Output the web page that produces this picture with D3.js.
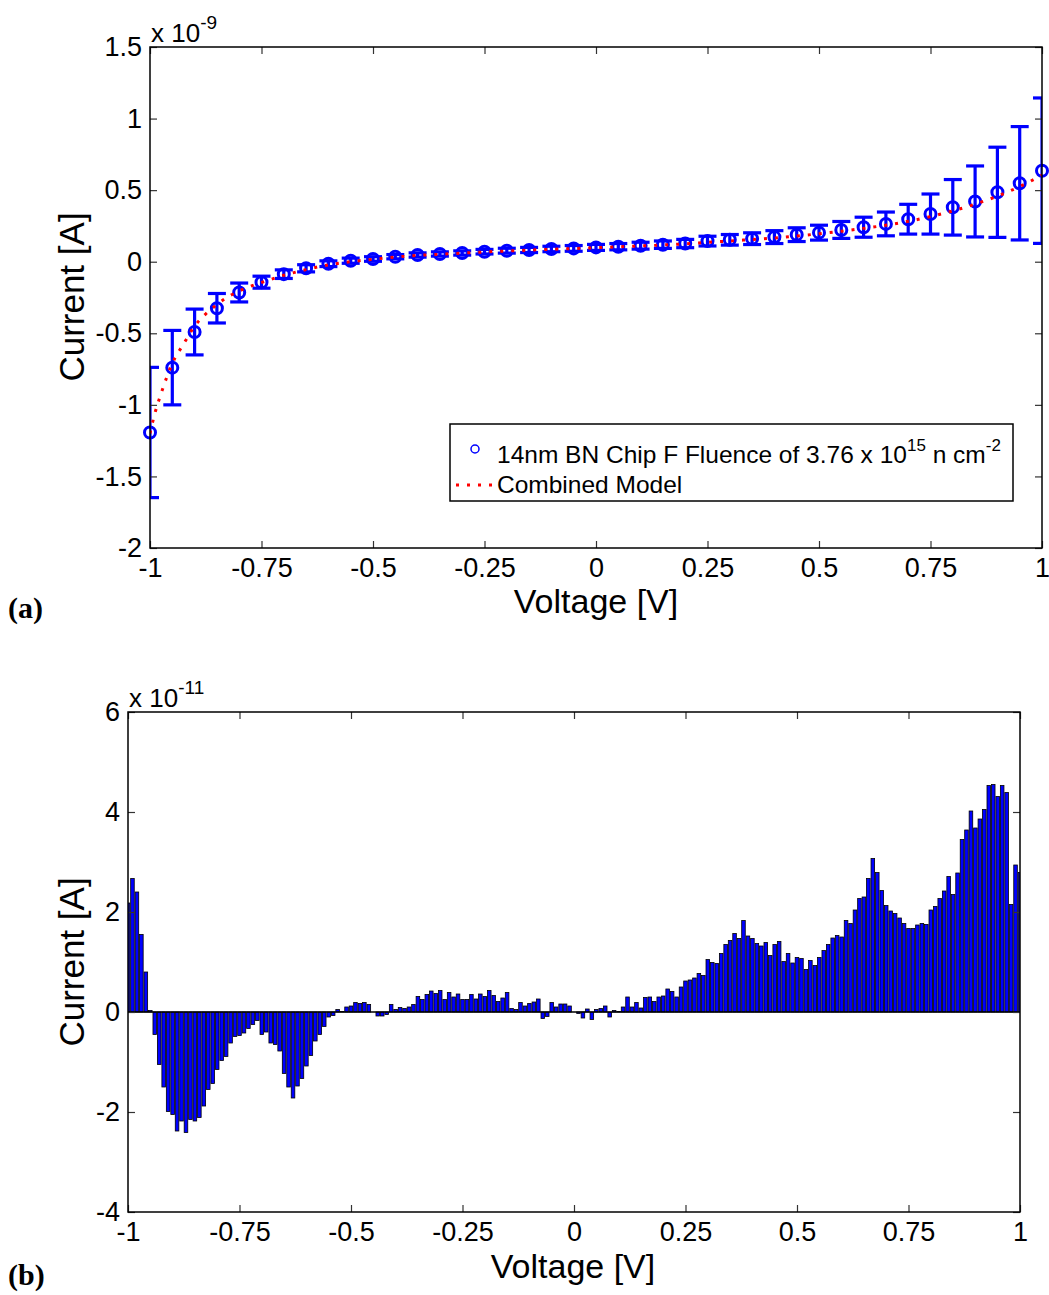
<!DOCTYPE html>
<html><head><meta charset="utf-8">
<script src="https://cdn.jsdelivr.net/npm/d3@7"></script>
<style>
body{margin:0;background:#fff}
svg{display:block}
text{fill:#000}
</style>
</head><body>
<svg id="c" width="1049" height="1295"></svg>
<script>
// ---------- Data: panel (a), current in units of 1e-9 A ----------
const voltageA = [-1,-0.95,-0.9,-0.85,-0.8,-0.75,-0.7,-0.65,-0.6,-0.55,-0.5,-0.45,-0.4,-0.35,-0.3,-0.25,-0.2,-0.15,-0.1,-0.05,0,
  0.05,0.1,0.15,0.2,0.25,0.3,0.35,0.4,0.45,0.5,0.55,0.6,0.65,0.7,0.75,0.8,0.85,0.9,0.95,1];
const currentA = [-1.193,-0.74,-0.491,-0.325,-0.215,-0.143,-0.087,-0.046,-0.014,0.007,0.019,0.035,0.047,0.054,0.061,0.07,0.077,0.082,0.089,0.093,0.10,
  0.105,0.112,0.119,0.127,0.144,0.153,0.161,0.172,0.189,0.203,0.222,0.241,0.264,0.297,0.333,0.38,0.421,0.485,0.548,0.636];
const errorA = [0.455,0.26,0.16,0.103,0.066,0.042,0.03,0.025,0.02,0.018,0.016,0.015,0.015,0.015,0.015,0.016,0.017,0.018,0.019,0.02,0.021,
  0.022,0.024,0.026,0.029,0.034,0.037,0.041,0.045,0.048,0.052,0.059,0.07,0.083,0.104,0.14,0.194,0.248,0.315,0.396,0.508];
// Combined model curve
const modelVoltage = [-1,-0.99,-0.975,-0.95,-0.925,-0.9,-0.875,-0.85,-0.825,-0.8,-0.775,-0.75,-0.7,-0.65,-0.6,-0.55,-0.5,-0.45,-0.4,-0.35,-0.3,-0.25,-0.2,-0.15,-0.1,-0.05,0,
  0.05,0.1,0.15,0.2,0.25,0.3,0.35,0.4,0.45,0.5,0.55,0.6,0.65,0.7,0.75,0.8,0.85,0.9,0.95,1];
const modelCurrent = [-1.2,-1.07,-0.92,-0.71,-0.576,-0.45,-0.365,-0.30,-0.245,-0.205,-0.172,-0.145,-0.095,-0.055,-0.022,0.0,0.017,0.032,0.044,0.052,0.06,0.068,0.075,0.081,0.087,0.092,0.098,
  0.104,0.11,0.117,0.125,0.135,0.145,0.155,0.166,0.18,0.195,0.213,0.233,0.255,0.282,0.315,0.355,0.402,0.458,0.525,0.605];
const xTicksA = [-1,-0.75,-0.5,-0.25,0,0.25,0.5,0.75,1];
const yTicksA = [-2,-1.5,-1,-0.5,0,0.5,1,1.5];

// ---------- Data: panel (b), current in units of 1e-11 A, one bar per 0.01 V from -1 to 1 ----------
const currentB = [
  2.18,2.67,2.4,1.55,0.8,0.03,-0.45,-1.05,-1.5,-1.99,
  -2.05,-2.38,-2.18,-2.41,-2.15,-2.18,-2.11,-1.88,-1.55,-1.43,
  -1.15,-0.97,-0.89,-0.62,-0.49,-0.47,-0.42,-0.33,-0.25,-0.17,
  -0.45,-0.4,-0.62,-0.65,-0.78,-1.23,-1.5,-1.72,-1.48,-1.33,
  -1.08,-0.87,-0.58,-0.45,-0.29,-0.1,-0.07,0.05,0.01,0.1,
  0.12,0.19,0.17,0.19,0.15,0.0,-0.08,-0.08,-0.05,0.15,
  0.05,0.09,0.07,0.1,0.15,0.31,0.25,0.35,0.42,0.37,
  0.43,0.25,0.39,0.3,0.36,0.25,0.25,0.35,0.26,0.36,
  0.31,0.43,0.33,0.21,0.28,0.39,0.07,0.05,0.19,0.12,
  0.17,0.2,0.26,-0.13,-0.09,0.19,0.1,0.16,0.16,0.12,
  0.0,-0.03,-0.12,0.06,-0.15,0.05,0.07,0.12,-0.1,0.03,
  0.01,0.1,0.3,0.1,0.19,0.08,0.29,0.3,0.21,0.3,
  0.32,0.46,0.41,0.3,0.5,0.62,0.64,0.68,0.77,0.73,
  1.05,0.99,0.97,1.17,1.35,1.43,1.57,1.47,1.83,1.52,
  1.47,1.37,1.32,1.39,1.13,1.35,1.41,1.01,1.17,0.98,
  1.09,1.07,0.85,1.03,0.93,1.09,1.23,1.35,1.48,1.53,
  1.5,1.83,1.77,2.04,2.27,2.3,2.67,3.07,2.79,2.43,
  2.13,2.02,1.97,1.88,1.77,1.67,1.67,1.74,1.77,1.75,
  2.04,2.11,2.27,2.42,2.71,2.35,2.78,3.45,3.64,4.02,
  3.68,3.86,4.05,4.53,4.55,4.31,4.53,4.39,2.15,2.94,
  2.79];
const voltageStepB = 0.01;
const voltageB = currentB.map((_, i) => Math.round((-1 + i * voltageStepB) * 100) / 100);
const xTicksB = [-1,-0.75,-0.5,-0.25,0,0.25,0.5,0.75,1];
const yTicksB = [-4,-2,0,2,4,6];

// ---------- Drawing ----------
const SANS = '"Liberation Sans",Arial,sans-serif';
const SERIF = '"Liberation Serif","Times New Roman",serif';
const svg = d3.select('#c').style('font-family', SANS);
const BLUE = '#0000ff';
const TICK_FS = 27;

function drawAxes(g, x, y, xt, yt, box, xPad, yPad) {
  const fmt = d => String(d);
  const gb = g.append('g').attr('transform', `translate(0,${box.bottom})`)
    .call(d3.axisBottom(x).tickValues(xt).tickSize(-7).tickPadding(xPad).tickFormat(fmt));
  const gt = g.append('g').attr('transform', `translate(0,${box.top})`)
    .call(d3.axisTop(x).tickValues(xt).tickSize(-7).tickFormat(''));
  const gl = g.append('g').attr('transform', `translate(${box.left},0)`)
    .call(d3.axisLeft(y).tickValues(yt).tickSize(-7).tickPadding(yPad).tickFormat(fmt));
  const gr = g.append('g').attr('transform', `translate(${box.right},0)`)
    .call(d3.axisRight(y).tickValues(yt).tickSize(-7).tickFormat(''));
  [gb, gt, gl, gr].forEach(a => {
    a.select('.domain').remove();
    a.attr('font-family', SANS).attr('font-size', TICK_FS);
    a.selectAll('.tick line').attr('stroke', '#333').attr('stroke-width', 1.2);
    a.selectAll('.tick text').attr('fill', '#000');
  });
  g.append('rect').attr('x', box.left).attr('y', box.top)
    .attr('width', box.right - box.left).attr('height', box.bottom - box.top)
    .attr('fill', 'none').attr('stroke', '#000').attr('stroke-width', 1.5);
}

function exponentLabel(xp, yp, exp) {
  const t = svg.append('text').attr('x', xp).attr('y', yp).attr('font-size', 26);
  t.append('tspan').text('x 10');
  t.append('tspan').attr('dy', -13).attr('font-size', 19).text(exp);
}

// ===== Panel (a) =====
const boxA = {left: 150, right: 1042, top: 47, bottom: 548};
const xA = d3.scaleLinear().domain([-1, 1]).range([boxA.left, boxA.right]);
const yA = d3.scaleLinear().domain([-2, 1.5]).range([boxA.bottom, boxA.top]);
const gA = svg.append('g');

svg.append('clipPath').attr('id', 'clipA').append('rect')
  .attr('x', boxA.left).attr('y', boxA.top).attr('width', boxA.right - boxA.left).attr('height', boxA.bottom - boxA.top);

const ptsA = voltageA.map((v, i) => ({v, c: currentA[i], e: errorA[i]}));
const errG = gA.append('g').attr('clip-path', 'url(#clipA)').attr('stroke', BLUE).attr('stroke-width', 3.2).attr('fill', 'none');
const capW = 9;
ptsA.forEach(p => {
  const cx = xA(p.v), y1 = yA(p.c + p.e), y2 = yA(p.c - p.e);
  errG.append('line').attr('x1', cx).attr('x2', cx).attr('y1', y1).attr('y2', y2);
  errG.append('line').attr('x1', cx - capW).attr('x2', cx + capW).attr('y1', y1).attr('y2', y1);
  errG.append('line').attr('x1', cx - capW).attr('x2', cx + capW).attr('y1', y2).attr('y2', y2);
});
gA.append('g').selectAll('circle').data(ptsA).join('circle')
  .attr('cx', d => xA(d.v)).attr('cy', d => yA(d.c)).attr('r', 5.5)
  .attr('fill', 'none').attr('stroke', BLUE).attr('stroke-width', 3);

const modelPts = modelVoltage.map((v, i) => ({v, m: modelCurrent[i]}));
const lineA = d3.line().x(d => xA(d.v)).y(d => yA(d.m)).curve(d3.curveMonotoneX);
gA.append('path').datum(modelPts).attr('d', lineA).attr('clip-path', 'url(#clipA)')
  .attr('fill', 'none').attr('stroke', '#ff0000').attr('stroke-width', 3).attr('stroke-dasharray', '3,8');

drawAxes(gA, xA, yA, xTicksA, yTicksA, boxA, 10, 8);
exponentLabel(151, 42, '-9');

// Legend (a)
const lg = svg.append('g');
lg.append('rect').attr('x', 450).attr('y', 424).attr('width', 563).attr('height', 77)
  .attr('fill', '#fff').attr('stroke', '#000').attr('stroke-width', 1.5);
lg.append('circle').attr('cx', 475).attr('cy', 449).attr('r', 4).attr('fill', 'none').attr('stroke', BLUE).attr('stroke-width', 1.5);
const lt1 = lg.append('text').attr('x', 497).attr('y', 463).attr('font-size', 24.5);
lt1.append('tspan').text('14nm BN Chip F Fluence of 3.76 x 10');
lt1.append('tspan').attr('dy', -12).attr('font-size', 17).text('15');
lt1.append('tspan').attr('dy', 12).text(' n cm');
lt1.append('tspan').attr('dy', -12).attr('font-size', 17).text('-2');
lg.append('line').attr('x1', 456).attr('x2', 494).attr('y1', 485).attr('y2', 485)
  .attr('stroke', '#ff0000').attr('stroke-width', 3).attr('stroke-dasharray', '3,8');
lg.append('text').attr('x', 497).attr('y', 493).attr('font-size', 24.5).text('Combined Model');

// Titles (a)
svg.append('text').attr('transform', `translate(84,297) rotate(-90)`).attr('text-anchor', 'middle')
  .attr('font-size', 35).text('Current [A]');
svg.append('text').attr('x', 596).attr('y', 613).attr('text-anchor', 'middle').attr('font-size', 34).text('Voltage [V]');
svg.append('text').attr('x', 8).attr('y', 618).attr('font-size', 30).attr('font-weight', 'bold')
  .style('font-family', SERIF).text('(a)');

// ===== Panel (b) =====
const boxB = {left: 128, right: 1020, top: 712, bottom: 1212};
const xB = d3.scaleLinear().domain([-1, 1]).range([boxB.left, boxB.right]);
const yB = d3.scaleLinear().domain([-4, 6]).range([boxB.bottom, boxB.top]);
const gB = svg.append('g');
svg.append('clipPath').attr('id', 'clipB').append('rect')
  .attr('x', boxB.left).attr('y', boxB.top).attr('width', boxB.right - boxB.left).attr('height', boxB.bottom - boxB.top);

const bw = (xB(voltageStepB) - xB(0)) * 0.8;
const barsB = voltageB.map((v, i) => ({v, c: currentB[i]}));
gB.append('g').attr('clip-path', 'url(#clipB)').selectAll('rect').data(barsB).join('rect')
  .attr('x', d => xB(d.v) - bw / 2).attr('width', bw)
  .attr('y', d => Math.min(yB(d.c), yB(0))).attr('height', d => Math.abs(yB(d.c) - yB(0)))
  .attr('fill', BLUE).attr('stroke', '#000').attr('stroke-width', 0.8);
gB.append('line').attr('x1', boxB.left).attr('x2', boxB.right).attr('y1', yB(0)).attr('y2', yB(0))
  .attr('stroke', '#000').attr('stroke-width', 1.5);

drawAxes(gB, xB, yB, xTicksB, yTicksB, boxB, 10, 8);
exponentLabel(129, 707, '-11');

svg.append('text').attr('transform', `translate(84,962) rotate(-90)`).attr('text-anchor', 'middle')
  .attr('font-size', 35).text('Current [A]');
svg.append('text').attr('x', 573).attr('y', 1278).attr('text-anchor', 'middle').attr('font-size', 34).text('Voltage [V]');
svg.append('text').attr('x', 8).attr('y', 1285).attr('font-size', 30).attr('font-weight', 'bold')
  .style('font-family', SERIF).text('(b)');
</script>
</body></html>
